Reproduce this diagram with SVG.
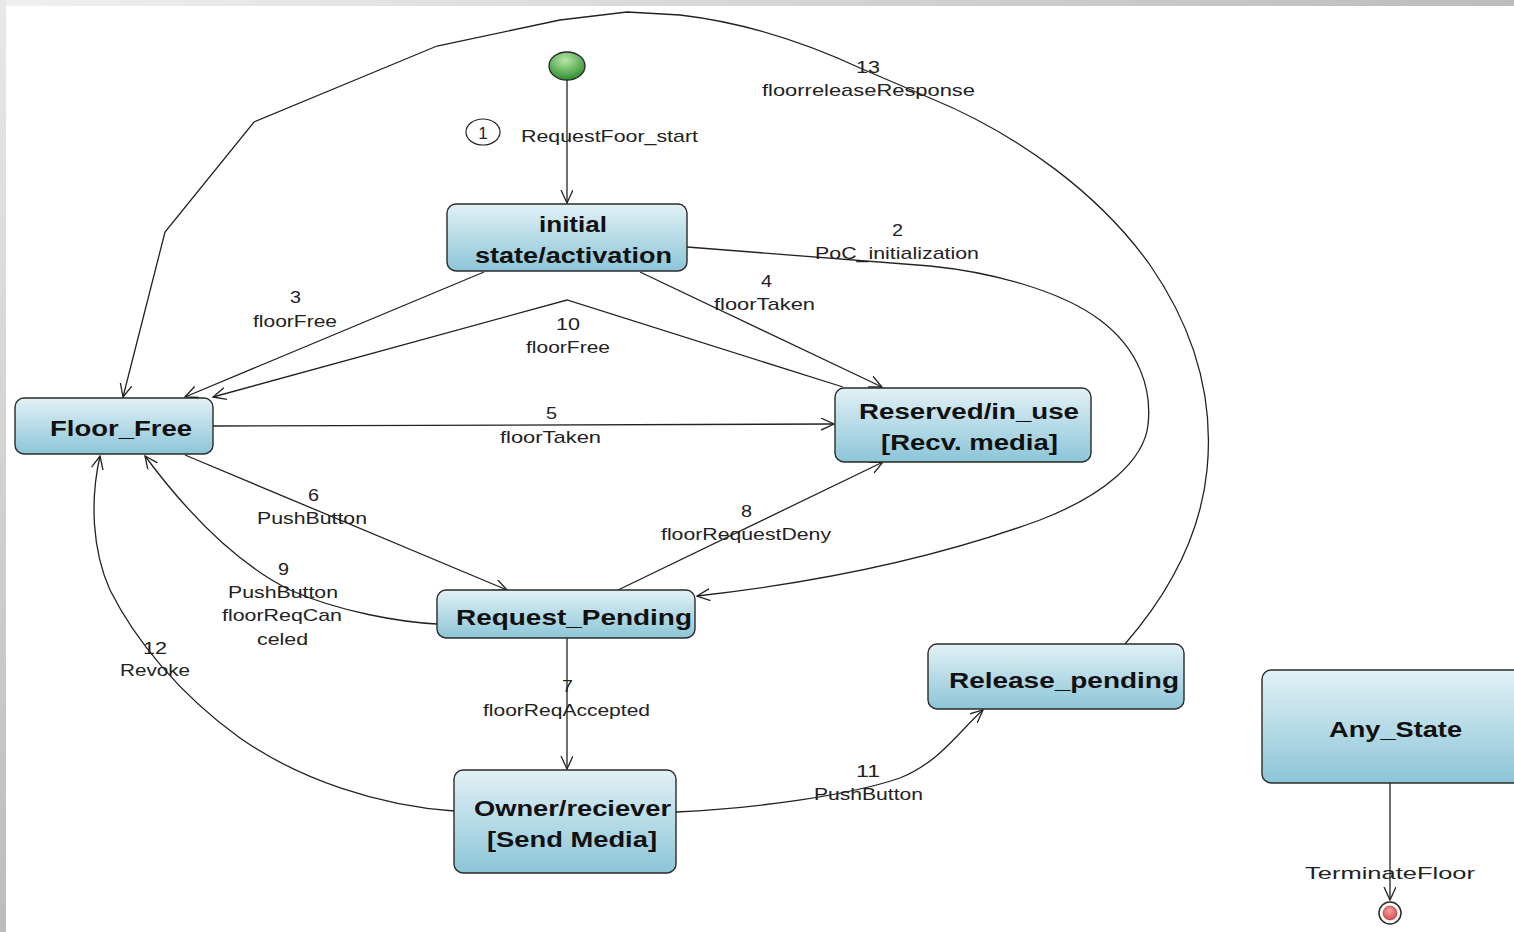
<svg xmlns="http://www.w3.org/2000/svg" width="1514" height="932" viewBox="0 0 1514 932">
<defs>
<linearGradient id="nodeGrad" x1="0" y1="0" x2="0" y2="1">
<stop offset="0" stop-color="#e2f1f6"/>
<stop offset="1" stop-color="#8cc5d8"/>
</linearGradient>
<linearGradient id="topBand" x1="0" y1="0" x2="1" y2="0">
<stop offset="0" stop-color="#f0f0f0"/>
<stop offset="1" stop-color="#bcbcbc"/>
</linearGradient>
<linearGradient id="leftBand" x1="0" y1="0" x2="0" y2="1">
<stop offset="0" stop-color="#e8e8e8"/>
<stop offset="1" stop-color="#bcbcbc"/>
</linearGradient>
<radialGradient id="startGrad" cx="0.45" cy="0.3" r="0.7">
<stop offset="0" stop-color="#b8e8a8"/>
<stop offset="1" stop-color="#2e8e2e"/>
</radialGradient>
<radialGradient id="endGrad" cx="0.45" cy="0.35" r="0.7">
<stop offset="0" stop-color="#f4a0a0"/>
<stop offset="1" stop-color="#d04848"/>
</radialGradient>
<marker id="arr" markerUnits="userSpaceOnUse" markerWidth="16" markerHeight="14" refX="13" refY="6" orient="auto">
<path d="M0,0 L13,6 L0,12" fill="none" stroke="#222" stroke-width="1.3"/>
</marker>
<style>
.node{fill:url(#nodeGrad);stroke:#2a2a2a;stroke-width:1.4}
.nt{font-family:"Liberation Sans",Arial,sans-serif;font-weight:bold;font-size:22px;fill:#111}
.lb{font-family:"Liberation Sans",Arial,sans-serif;font-size:17px;fill:#222}
.edge{fill:none;stroke:#222;stroke-width:1.3}
</style>
</defs>
<rect x="0" y="0" width="1514" height="932" fill="#ffffff"/>
<rect x="0" y="0" width="1514" height="6" fill="url(#topBand)"/>
<rect x="0" y="0" width="6" height="932" fill="url(#leftBand)"/>

<g id="connectors">
<path class="edge" d="M567,80 L567,203" marker-end="url(#arr)"/>
<path class="edge" d="M687,247 L930,266 C990,272 1060,290 1100,320 C1140,350 1152,390 1148,425 C1144,460 1105,495 1040,520 C950,553 840,580 697,596" marker-end="url(#arr)"/>
<path class="edge" d="M484,272 L185,397" marker-end="url(#arr)"/>
<path class="edge" d="M640,272 L882,387" marker-end="url(#arr)"/>
<path class="edge" d="M843,387 L567,300 L213,397" marker-end="url(#arr)"/>
<path class="edge" d="M213,426 L834,424" marker-end="url(#arr)"/>
<path class="edge" d="M185,455 L507,590" marker-end="url(#arr)"/>
<path class="edge" d="M618,590 L883,462" marker-end="url(#arr)"/>
<path class="edge" d="M437,624 C400,622 340,612 290,590 C250,570 200,530 145,456" marker-end="url(#arr)"/>
<path class="edge" d="M567,638 L567,769" marker-end="url(#arr)"/>
<path class="edge" d="M454,811 C380,806 300,780 240,738 C180,695 135,640 110,590 C92,550 90,500 100,456" marker-end="url(#arr)"/>
<path class="edge" d="M676,812 C760,808 850,795 900,778 C940,762 960,730 983,710" marker-end="url(#arr)"/>
<path class="edge" d="M1125,644 C1165,598 1200,540 1207,470 C1214,400 1195,330 1150,265 C1100,195 1020,135 930,98 L860,68 C800,40 740,22 680,15 L627,12 L560,20 L437,46 L254,122 L165,232 L123,397" marker-end="url(#arr)"/>
<path class="edge" d="M1390,783 L1390,900" marker-end="url(#arr)"/>
</g>

<g id="labels">
<ellipse cx="483" cy="132" rx="17" ry="13" fill="none" stroke="#222" stroke-width="1.2"/>
<text class="lb" x="483" y="139" text-anchor="middle" font-size="18">1</text>
<text class="lb" x="521" y="142" textLength="177" lengthAdjust="spacingAndGlyphs">RequestFoor_start</text>
<text class="lb" x="856" y="73" textLength="24" lengthAdjust="spacingAndGlyphs">13</text>
<text class="lb" x="762" y="96" textLength="213" lengthAdjust="spacingAndGlyphs">floorreleaseResponse</text>
<text class="lb" x="892" y="236" textLength="11" lengthAdjust="spacingAndGlyphs">2</text>
<text class="lb" x="815" y="259" textLength="164" lengthAdjust="spacingAndGlyphs">PoC_initialization</text>
<text class="lb" x="761" y="287" textLength="11" lengthAdjust="spacingAndGlyphs">4</text>
<text class="lb" x="714" y="310" textLength="101" lengthAdjust="spacingAndGlyphs">floorTaken</text>
<text class="lb" x="290" y="303" textLength="11" lengthAdjust="spacingAndGlyphs">3</text>
<text class="lb" x="253" y="327" textLength="84" lengthAdjust="spacingAndGlyphs">floorFree</text>
<text class="lb" x="556" y="330" textLength="24" lengthAdjust="spacingAndGlyphs">10</text>
<text class="lb" x="526" y="353" textLength="84" lengthAdjust="spacingAndGlyphs">floorFree</text>
<text class="lb" x="546" y="419" textLength="11" lengthAdjust="spacingAndGlyphs">5</text>
<text class="lb" x="500" y="443" textLength="101" lengthAdjust="spacingAndGlyphs">floorTaken</text>
<text class="lb" x="308" y="501" textLength="11" lengthAdjust="spacingAndGlyphs">6</text>
<text class="lb" x="257" y="524" textLength="110" lengthAdjust="spacingAndGlyphs">PushButton</text>
<text class="lb" x="741" y="517" textLength="11" lengthAdjust="spacingAndGlyphs">8</text>
<text class="lb" x="661" y="540" textLength="170" lengthAdjust="spacingAndGlyphs">floorRequestDeny</text>
<text class="lb" x="278" y="575" textLength="11" lengthAdjust="spacingAndGlyphs">9</text>
<text class="lb" x="228" y="598" textLength="110" lengthAdjust="spacingAndGlyphs">PushButton</text>
<text class="lb" x="222" y="621" textLength="120" lengthAdjust="spacingAndGlyphs">floorReqCan</text>
<text class="lb" x="257" y="645" textLength="51" lengthAdjust="spacingAndGlyphs">celed</text>
<text class="lb" x="143" y="654" textLength="24" lengthAdjust="spacingAndGlyphs">12</text>
<text class="lb" x="120" y="676" textLength="70" lengthAdjust="spacingAndGlyphs">Revoke</text>
<text class="lb" x="562" y="692" textLength="11" lengthAdjust="spacingAndGlyphs">7</text>
<text class="lb" x="483" y="716" textLength="167" lengthAdjust="spacingAndGlyphs">floorReqAccepted</text>
<text class="lb" x="856" y="777" textLength="24" lengthAdjust="spacingAndGlyphs">11</text>
<text class="lb" x="814" y="800" textLength="109" lengthAdjust="spacingAndGlyphs">PushButton</text>
<text class="lb" x="1305" y="879" font-size="20" textLength="170" lengthAdjust="spacingAndGlyphs">TerminateFloor</text>
</g>

<g id="start">
<ellipse cx="567" cy="66" rx="18" ry="14" fill="url(#startGrad)" stroke="#2a2a2a" stroke-width="1.3"/>
</g>

<g id="initial_state">
<rect class="node" x="447" y="204" width="240" height="67" rx="9"/>
<text class="nt" x="539" y="232" textLength="68" lengthAdjust="spacingAndGlyphs">initial</text>
<text class="nt" x="475" y="263" textLength="197" lengthAdjust="spacingAndGlyphs">state/activation</text>
</g>

<g id="floor_free">
<rect class="node" x="15" y="398" width="198" height="56" rx="9"/>
<text class="nt" x="50" y="436" textLength="142" lengthAdjust="spacingAndGlyphs">Floor_Free</text>
</g>

<g id="reserved">
<rect class="node" x="835" y="388" width="256" height="74" rx="9"/>
<text class="nt" x="859" y="419" textLength="220" lengthAdjust="spacingAndGlyphs">Reserved/in_use</text>
<text class="nt" x="881" y="450" textLength="177" lengthAdjust="spacingAndGlyphs">[Recv. media]</text>
</g>

<g id="request_pending">
<rect class="node" x="437" y="590" width="258" height="48" rx="9"/>
<text class="nt" x="456" y="625" textLength="236" lengthAdjust="spacingAndGlyphs">Request_Pending</text>
</g>

<g id="owner">
<rect class="node" x="454" y="770" width="222" height="103" rx="9"/>
<text class="nt" x="474" y="816" textLength="197" lengthAdjust="spacingAndGlyphs">Owner/reciever</text>
<text class="nt" x="487" y="847" textLength="170" lengthAdjust="spacingAndGlyphs">[Send Media]</text>
</g>

<g id="release_pending">
<rect class="node" x="928" y="644" width="256" height="65" rx="9"/>
<text class="nt" x="949" y="688" textLength="230" lengthAdjust="spacingAndGlyphs">Release_pending</text>
</g>

<g id="any_state">
<rect class="node" x="1262" y="670" width="262" height="113" rx="9"/>
<text class="nt" x="1329" y="737" textLength="133" lengthAdjust="spacingAndGlyphs">Any_State</text>
</g>

<g id="final">
<circle cx="1390" cy="913" r="11" fill="#ffffff" stroke="#2a2a2a" stroke-width="1.5"/>
<circle cx="1390" cy="913" r="7" fill="url(#endGrad)" stroke="#a03030" stroke-width="0.6"/>
</g>
</svg>
